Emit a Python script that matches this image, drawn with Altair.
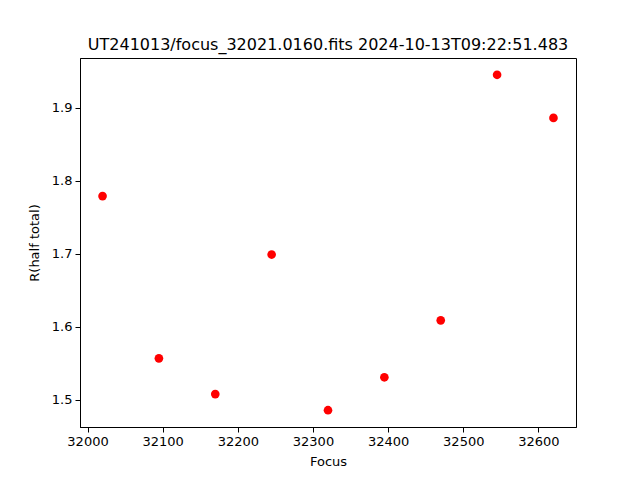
import altair as alt
import pandas as pd

focus = [32020, 32095, 32170, 32245, 32320, 32395, 32470, 32545, 32620]
r_half = [1.779, 1.557, 1.508, 1.699, 1.486, 1.531, 1.609, 1.945, 1.886]
x_ticks = [32000, 32100, 32200, 32300, 32400, 32500, 32600]
y_ticks = [1.5, 1.6, 1.7, 1.8, 1.9]

df = pd.DataFrame({"Focus": focus, "R": r_half})

font = "DejaVu Sans"

chart = alt.Chart(df).mark_circle(color="red", opacity=1, size=75).encode(
    x=alt.X("Focus:Q", scale=alt.Scale(domain=[31990, 32650], nice=False, zero=False),
            axis=alt.Axis(values=x_ticks, format="d", title="Focus")),
    y=alt.Y("R:Q", scale=alt.Scale(domain=[1.463, 1.968], nice=False, zero=False),
            axis=alt.Axis(values=y_ticks, format=".1f", title="R(half total)")),
).properties(
    width=496, height=369,
    title=alt.TitleParams("UT241013/focus_32021.0160.fits 2024-10-13T09:22:51.483",
                          font=font, fontSize=16, fontWeight="normal", color="black", offset=5),
    autosize=alt.AutoSizeParams(type="none"),
    padding={"left": 72, "top": 50, "right": 56, "bottom": 45},
).configure_view(
    stroke="black", strokeWidth=1
).configure_axis(
    grid=False, domainColor="black", tickColor="black", tickSize=5,
    labelFont=font, labelFontSize=13, labelColor="black",
    titleFont=font, titleFontSize=13, titleFontWeight="normal", titleColor="black",
    labelPadding=3,
).configure_axisX(titlePadding=7).configure_axisY(titlePadding=10)

chart.save("out.html", embed_options={"renderer": "svg", "actions": False})
